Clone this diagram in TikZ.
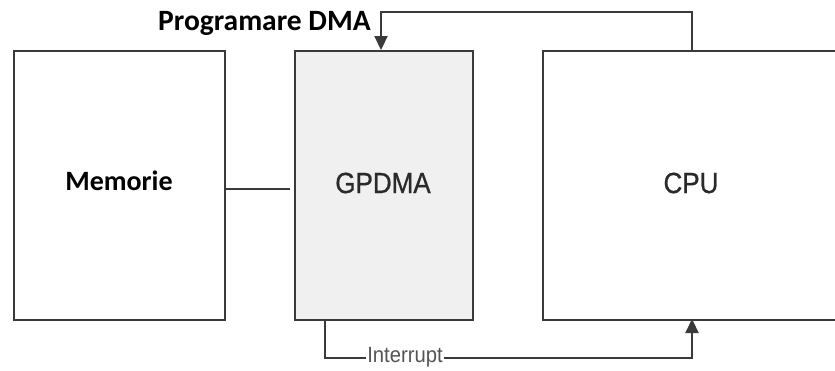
\documentclass[tikz,border=0pt]{standalone}
\usepackage{fontspec}
\usepackage{graphicx}
\setmainfont{Carlito}
\newfontfamily\arialf{Liberation Sans}
\newfontfamily\gpf[FakeBold=0.8]{Liberation Sans}
\usetikzlibrary{arrows.meta}
\definecolor{linegray}{HTML}{3A3A3A}
\definecolor{boxfill}{HTML}{F0F0F0}
\definecolor{txtgray}{HTML}{2A2A2A}
\definecolor{inttxt}{HTML}{555555}
\tikzset{
  blockbox/.style={draw=linegray, line width=2.2pt, inner sep=0pt, anchor=north west},
  conn/.style={draw=linegray, line width=2.2pt},
  arr/.style={conn, -{Triangle[length=14pt,width=13pt]}},
}
\begin{document}
\begin{tikzpicture}[x=1pt,y=-1pt]
\useasboundingbox (0,0) rectangle (835,370);
\clip (0,0) rectangle (835,370);
\fill[white] (0,0) rectangle (835,370);
% boxes
\node[blockbox, minimum width=211pt, minimum height=269pt] (mem) at (13,50) {};
\node[blockbox, fill=boxfill, minimum width=178pt, minimum height=269pt] (gp) at (294,50) {};
\node[blockbox, minimum width=300pt, minimum height=269pt] (cpu) at (542,50) {};
% labels
\node[font=\fontsize{28}{30}\selectfont\bfseries, text=black] (memt) at (119,181) {Memorie};
\node[font=\gpf\fontsize{26}{30}\selectfont, text=txtgray] (gpt) at (383,183) {\scalebox{1}[1.12]{GPDMA}};
\node[font=\gpf\fontsize{26}{30}\selectfont, text=txtgray] (cput) at (691,183) {\scalebox{1}[1.12]{CPU}};
\node[font=\fontsize{29.5}{32}\selectfont\bfseries, text=black, anchor=base west, inner sep=0pt] (prog) at (158,30) {Programare DMA};
% connectors
\coordinate (memr) at (224,189);
\coordinate (gpl) at (290,189);
\draw[conn] (memr) -- (gpl);
\coordinate (cputop) at (692,50);
\coordinate (gptop) at (381,50);
\draw[arr] (cputop) -- (692,12) -- (381,12) -- (gptop);
\coordinate (gpbot) at (325,319);
\coordinate (cpubot) at (692,319);
\draw[arr] (gpbot) -- (325,358) -- (692,358) -- (cpubot);
\node[font=\arialf\fontsize{22}{24}\selectfont, text=inttxt, fill=white, inner sep=1pt] (intr) at (405,357) {\scalebox{0.92}[1]{Interrupt}};
\end{tikzpicture}
\end{document}
